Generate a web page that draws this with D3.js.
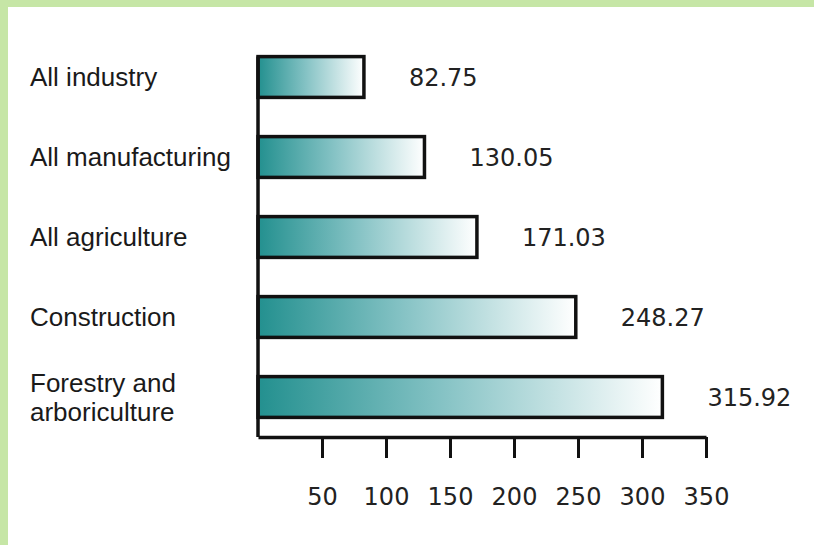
<!DOCTYPE html>
<html>
<head>
<meta charset="utf-8">
<script src="https://cdn.jsdelivr.net/npm/d3@7"></script>
<style>
    body { margin: 0; background: #ffffff; }
    svg { display: block; }
</style>
</head>
<body>
<div id="chart"></div>
<script>
const categories = ['All industry', 'All manufacturing', 'All agriculture', 'Construction', 'Forestry and arboriculture'];
const categoryLines = [['All industry'], ['All manufacturing'], ['All agriculture'], ['Construction'], ['Forestry and', 'arboriculture']];
const values = [82.75, 130.05, 171.03, 248.27, 315.92];
const valueLabels = ['82.75', '130.05', '171.03', '248.27', '315.92'];
const xTicks = [50, 100, 150, 200, 250, 300, 350];

function main() {
    const svgWidth = 814;
    const svgHeight = 545;
    const axisX = 258;
    const axisY = 437;

    const svg = d3.select('#chart').append('svg')
        .attr('width', svgWidth)
        .attr('height', svgHeight);

    svg.append('rect')
        .attr('width', svgWidth).attr('height', svgHeight)
        .attr('fill', '#ffffff');

    // green frame, top and left only
    svg.append('rect')
        .attr('x', 0).attr('y', 0)
        .attr('width', svgWidth).attr('height', 7)
        .attr('fill', '#c6e6a6');
    svg.append('rect')
        .attr('x', 0).attr('y', 0)
        .attr('width', 8).attr('height', svgHeight)
        .attr('fill', '#c6e6a6');

    const defs = svg.append('defs');
    const grad = defs.append('linearGradient')
        .attr('id', 'barGrad')
        .attr('x1', '0%').attr('x2', '100%')
        .attr('y1', '0%').attr('y2', '0%');
    grad.append('stop').attr('offset', '0%').attr('stop-color', '#23908f');
    grad.append('stop').attr('offset', '45%').attr('stop-color', '#84c2c4');
    grad.append('stop').attr('offset', '100%').attr('stop-color', '#ffffff');

    const xScale = d3.scaleLinear()
        .domain([0, 350])
        .range([axisX, 706]);

    const yScale = d3.scaleBand()
        .domain(categories)
        .range([37, axisY])
        .paddingInner(0.49)
        .paddingOuter(0.245);

    const g = svg.append('g');

    g.selectAll('.bar')
        .data(values)
        .enter()
        .append('rect')
        .attr('class', 'bar')
        .attr('x', xScale(0))
        .attr('y', (d, i) => yScale(categories[i]))
        .attr('width', d => xScale(d) - xScale(0))
        .attr('height', yScale.bandwidth())
        .attr('fill', 'url(#barGrad)')
        .attr('stroke', '#111111')
        .attr('stroke-width', 3.5);

    g.selectAll('.value-label')
        .data(values)
        .enter()
        .append('text')
        .attr('class', 'value-label')
        .attr('x', d => xScale(d) + 45)
        .attr('y', (d, i) => yScale(categories[i]) + yScale.bandwidth() / 2)
        .attr('dy', '0.36em')
        .attr('fill', '#222222')
        .style('font-family', 'DejaVu Sans')
        .style('font-size', '24px')
        .text((d, i) => valueLabels[i]);

    // category labels, left aligned
    const catText = g.selectAll('.cat-label')
        .data(categoryLines)
        .enter()
        .append('text')
        .attr('class', 'cat-label')
        .attr('fill', '#1a1a1a')
        .style('font-family', 'Liberation Sans')
        .style('font-size', '26px');

    catText.each(function (lines, i) {
        const cy = yScale(categories[i]) + yScale.bandwidth() / 2;
        const lineH = 29;
        const top = cy - (lines.length - 1) * lineH / 2;
        d3.select(this).selectAll('tspan')
            .data(lines)
            .enter()
            .append('tspan')
            .attr('x', 30)
            .attr('y', (d, j) => top + j * lineH)
            .attr('dy', '0.35em')
            .text(d => d);
    });

    // y axis line
    g.append('line')
        .attr('x1', axisX).attr('x2', axisX)
        .attr('y1', yScale(categories[0])).attr('y2', axisY)
        .attr('stroke', '#111111')
        .attr('stroke-width', 3.5);

    // x axis
    const xAxis = g.append('g')
        .attr('transform', `translate(0,${axisY})`)
        .call(d3.axisBottom(xScale)
            .tickValues(xTicks)
            .tickSize(21)
            .tickSizeOuter(0)
            .tickPadding(30));

    xAxis.select('.domain')
        .attr('stroke', '#111111')
        .attr('stroke-width', 3.5);
    xAxis.selectAll('.tick line')
        .attr('stroke', '#111111')
        .attr('stroke-width', 3);
    xAxis.selectAll('.tick text')
        .attr('fill', '#222222')
        .style('font-family', 'DejaVu Sans')
        .style('font-size', '24px');
}

main();
</script>
</body>
</html>
